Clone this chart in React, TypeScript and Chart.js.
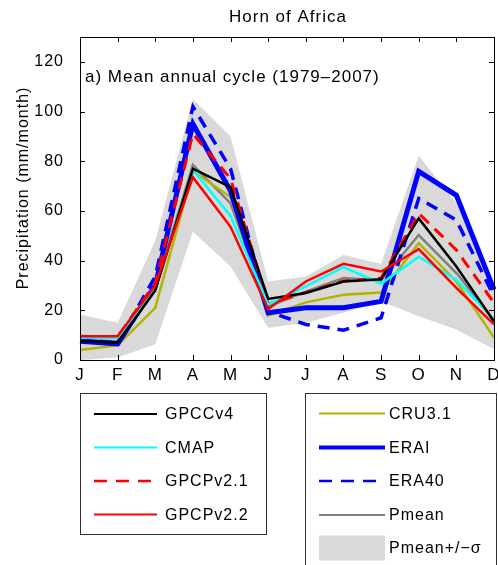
import React, { useEffect, useRef } from 'react';
import { Chart, registerables } from 'chart.js';
Chart.register(...registerables);

const months = ['J', 'F', 'M', 'A', 'M', 'J', 'J', 'A', 'S', 'O', 'N', 'D'];
const gpccV4 = [7.6, 7, 28, 77, 69.6, 24.6, 27, 31.6, 32.5, 57, 37.6, 15.5];
const cmap = [9, 9, 29, 76.5, 58, 22.3, 29.6, 37.4, 30.7, 41.6, 32.3, 16.3];
const gpcpV21 = [9.6, 9.3, 31, 91, 73, 22.5, 27.2, 31.8, 33, 59, 44.3, 23];
const gpcpV22 = [9.6, 9.6, 30, 73.6, 53.6, 20.5, 31.6, 38.7, 35.6, 44.6, 29, 14.3];
const cru31 = [4, 5.9, 21, 76, 65.6, 17.9, 23.2, 26.3, 27.2, 47, 31.6, 9];
const erai = [7.5, 6.5, 30, 95, 68, 19, 21, 21, 23.6, 75.9, 66.3, 28.3];
const era40 = [8, 7, 33.6, 102, 77, 19.5, 14.3, 12, 17, 65, 56.3, 25.6];
const pmean = [8, 7.5, 29, 78.5, 63, 21.5, 27.5, 33, 32, 50.3, 35, 16];
const bandUpper = [18.3, 15, 48, 105, 90, 31.6, 33.6, 42.3, 38.7, 82.3, 63, 29.6];
const bandLower = [0, 1, 6.3, 51.6, 37.6, 13, 15, 19, 23.6, 17.6, 12.3, 4.3];
const yTickValues = [0, 20, 40, 60, 80, 100, 120];

const titleText = 'Horn of Africa';
const panelText = 'a) Mean annual cycle (1979\u20132007)';
const yAxisText = 'Precipitation (mm/month)';
const leftLegend = ['GPCCv4', 'CMAP', 'GPCPv2.1', 'GPCPv2.2'];
const rightLegend = ['CRU3.1', 'ERAI', 'ERA40', 'Pmean', 'Pmean+/\u2212\u03c3'];

const FONT = '"Liberation Sans", Arial, Helvetica, sans-serif';
const BAND = '#d9d9d9';

export default function App() {
  const ref = useRef<HTMLCanvasElement>(null);
  useEffect(() => {
    const canvas = ref.current!;
    const line = (label: string, data: number[], color: string, width: number, order: number, dash: number[] = []) => ({
      label, data, borderColor: color, backgroundColor: color, borderWidth: width,
      borderDash: dash, pointRadius: 0, tension: 0, fill: false, order,
    });

    const decor = {
      id: 'decor',
      beforeDraw(chart: any) {
        chart.ctx.letterSpacing = '1px';
      },
      afterDatasetsDraw(chart: any) {
        const { ctx, chartArea: a, scales } = chart;
        ctx.save();
        ctx.strokeStyle = '#000';
        ctx.lineWidth = 1;
        ctx.strokeRect(Math.round(a.left) + 0.5, Math.round(a.top) + 0.5, Math.round(a.right - a.left), Math.round(a.bottom - a.top));
        ctx.beginPath();
        for (const v of yTickValues) {
          const y = Math.round(scales.y.getPixelForValue(v)) + 0.5;
          ctx.moveTo(a.left, y); ctx.lineTo(a.left + 5, y);
          ctx.moveTo(a.right, y); ctx.lineTo(a.right - 5, y);
        }
        months.forEach((_, i) => {
          const x = Math.round(scales.x.getPixelForValue(i)) + 0.5;
          ctx.moveTo(x, a.bottom); ctx.lineTo(x, a.bottom - 5);
          ctx.moveTo(x, a.top); ctx.lineTo(x, a.top + 5);
        });
        ctx.stroke();
        ctx.restore();
      },
      afterDraw(chart: any) {
        const { ctx, chartArea: a } = chart;
        ctx.save();
        ctx.letterSpacing = '1px';
        ctx.fillStyle = '#000';
        ctx.font = `17px ${FONT}`;
        ctx.textAlign = 'center';
        ctx.textBaseline = 'alphabetic';
        ctx.fillText(titleText, 288, 22);
        ctx.font = `17px ${FONT}`;
        ctx.textAlign = 'left';
        ctx.fillText(panelText, a.left + 5, 81.5);
        ctx.save();
        ctx.translate(24, 188);
        ctx.rotate(-Math.PI / 2);
        ctx.font = `16px ${FONT}`;
        ctx.textAlign = 'center';
        ctx.textBaseline = 'middle';
        ctx.fillText(yAxisText, 0, 0);
        ctx.restore();

        const ds = chart.data.datasets;
        const find = (l: string) => ds.find((d: any) => d.label === l);
        const drawBox = (x0: number, y0: number, x1: number, y1: number) => {
          ctx.fillStyle = '#fff';
          ctx.fillRect(x0, y0, x1 - x0, y1 - y0);
          ctx.strokeStyle = '#333';
          ctx.lineWidth = 1;
          ctx.setLineDash([]);
          ctx.strokeRect(x0 + 0.5, y0 + 0.5, x1 - x0, y1 - y0);
        };
        const drawEntry = (label: string, lx0: number, lx1: number, tx: number, y: number) => {
          const d: any = find(label);
          if (d && d.isBand) {
            ctx.fillStyle = BAND;
            ctx.fillRect(lx0, y - 12.5, lx1 - lx0, 25);
          } else if (d) {
            ctx.strokeStyle = d.borderColor;
            ctx.lineWidth = d.legendWidth;
            ctx.setLineDash(d.borderDash && d.borderDash.length ? [13, 9] : []);
            ctx.beginPath();
            ctx.moveTo(lx0, y); ctx.lineTo(lx1, y);
            ctx.stroke();
            ctx.setLineDash([]);
          }
          ctx.fillStyle = '#000';
          ctx.font = `16px ${FONT}`;
          ctx.textAlign = 'left';
          ctx.textBaseline = 'middle';
          ctx.fillText(label, tx, y + 1);
        };
        drawBox(80, 393, 266, 534);
        const leftY = [414, 447.5, 481, 514.5];
        leftLegend.forEach((l, i) => drawEntry(l, 94, 157, 165, leftY[i]));
        drawBox(305, 393, 496, 580);
        const rightY = [413.5, 447.5, 481, 515, 548];
        rightLegend.forEach((l, i) => drawEntry(l, 319, 385, 389, rightY[i]));
        ctx.restore();
      },
    };

    const datasets: any[] = [
      { label: 'lower', data: bandLower, borderWidth: 0, pointRadius: 0, fill: false, order: 20, borderColor: 'rgba(0,0,0,0)', backgroundColor: BAND, tension: 0 },
      { label: rightLegend[4], isBand: true, data: bandUpper, borderWidth: 0, pointRadius: 0, fill: '-1', order: 19, borderColor: 'rgba(0,0,0,0)', backgroundColor: BAND, tension: 0 },
      { ...line('Pmean', pmean, '#808080', 2.5, 9), legendWidth: 2 },
      { ...line('CRU3.1', cru31, '#b3b300', 2.5, 8), legendWidth: 2 },
      { ...line('ERAI', erai, '#0000ff', 5, 7), legendWidth: 4 },
      { ...line('ERA40', era40, '#0000ff', 3.5, 6, [12, 8]), legendWidth: 2.5 },
      { ...line('GPCPv2.1', gpcpV21, '#ff0000', 3, 5, [12, 8]), legendWidth: 2.5 },
      { ...line('CMAP', cmap, '#00ffff', 2.5, 4), legendWidth: 2 },
      { ...line('GPCCv4', gpccV4, '#000000', 2.5, 3), legendWidth: 2 },
      { ...line('GPCPv2.2', gpcpV22, '#ff0000', 2.5, 2), legendWidth: 2 },
    ];

    const chart = new Chart(canvas, {
      type: 'line',
      data: { labels: months, datasets },
      options: {
        responsive: false,
        animation: false,
        layout: { padding: { top: 37, left: 0, right: 4, bottom: 0 } },
        plugins: { legend: { display: false }, tooltip: { enabled: false }, title: { display: false } },
        scales: {
          x: {
            type: 'category',
            offset: false,
            grid: { display: false },
            border: { display: false },
            ticks: { color: '#000', font: { family: FONT, size: 17 }, padding: -3, maxRotation: 0, autoSkip: false },
            afterFit: (s: any) => { s.height = 205; s.paddingLeft = 0; s.paddingRight = 0; },
          },
          y: {
            type: 'linear',
            min: 0,
            max: 130,
            grid: { display: false },
            border: { display: false },
            ticks: { color: '#000', font: { family: FONT, size: 16 }, padding: 8, stepSize: 20, includeBounds: false },
            afterBuildTicks: (s: any) => { s.ticks = yTickValues.map((v) => ({ value: v })); },
            afterFit: (s: any) => { s.width = 80; s.paddingTop = 0; s.paddingBottom = 0; },
          },
        },
      } as any,
      plugins: [decor],
    });
    return () => chart.destroy();
  }, []);
  return (
    <div style={{ position: 'absolute', left: 0, top: 0, width: 498, height: 565, background: '#fff' }}>
      <canvas ref={ref} width={498} height={565} style={{ display: 'block' }} />
    </div>
  );
}
